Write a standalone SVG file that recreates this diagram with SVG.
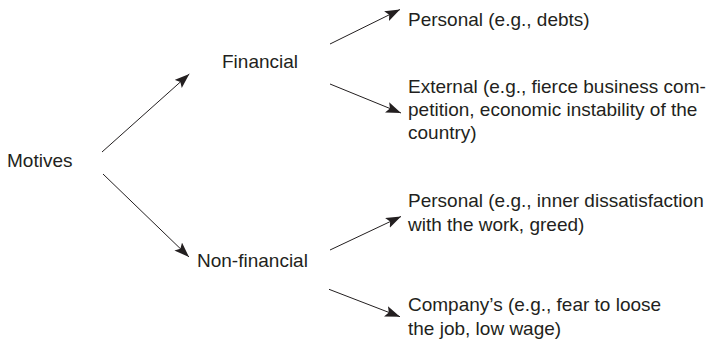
<svg xmlns="http://www.w3.org/2000/svg" width="724" height="344" viewBox="0 0 724 344">
<style>
text{font-family:"Liberation Sans",Arial,sans-serif;font-size:19px;fill:#231f20}
.c line{stroke:#231f20;stroke-width:1}
</style>
<defs>
<marker id="ah" markerUnits="userSpaceOnUse" markerWidth="16" markerHeight="12" refX="15" refY="5.5" orient="auto"><path d="M0,0 L15,5.5 L0,11 L3,5.5 Z" fill="#231f20"/></marker>
</defs>
<rect width="724" height="344" fill="#fff"/>
<g class="c" id="connectors">
<line x1="102" y1="152" x2="189.3" y2="74" marker-end="url(#ah)"/>
<line x1="103" y1="174" x2="189" y2="257" marker-end="url(#ah)"/>
<line x1="330" y1="44" x2="400" y2="9.5" marker-end="url(#ah)"/>
<line x1="330" y1="84" x2="401" y2="113" marker-end="url(#ah)"/>
<line x1="330" y1="250" x2="401" y2="216.5" marker-end="url(#ah)"/>
<line x1="329" y1="289.3" x2="400" y2="316.7" marker-end="url(#ah)"/>
</g>
<g id="motives"><text x="7" y="167">Motives</text></g>
<g id="financial"><text x="222" y="68">Financial</text></g>
<g id="nonfinancial"><text x="197" y="267">Non-financial</text></g>
<g id="personal1"><text x="408" y="26">Personal (e.g., debts)</text></g>
<g id="external"><text x="408" y="93">External (e.g., fierce business com-</text><text x="408" y="116">petition, economic instability of the</text><text x="408" y="139">country)</text></g>
<g id="personal2"><text x="408" y="207">Personal (e.g., inner dissatisfaction</text><text x="408" y="231">with the work, greed)</text></g>
<g id="company"><text x="408" y="311">Company’s (e.g., fear to loose</text><text x="408" y="335">the job, low wage)</text></g>
</svg>
